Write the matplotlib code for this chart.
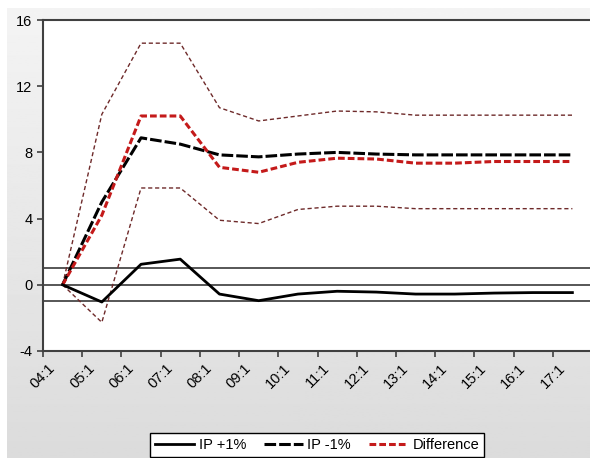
import numpy as np
import matplotlib.pyplot as plt
from matplotlib.transforms import ScaledTranslation

plt.rcParams['font.family'] = ['Liberation Sans', 'DejaVu Sans']
plt.rcParams['axes.unicode_minus'] = False

periods = ['04:1', '05:1', '06:1', '07:1', '08:1', '09:1', '10:1',
           '11:1', '12:1', '13:1', '14:1', '15:1', '16:1', '17:1']
ip_plus = [0.0, -1.04, 1.24, 1.55, -0.56, -0.96, -0.56, -0.39, -0.44,
           -0.56, -0.56, -0.5, -0.47, -0.47]
ip_minus = [0.0, 5.0, 8.88, 8.5, 7.85, 7.73, 7.9, 8.0, 7.9,
            7.85, 7.85, 7.85, 7.85, 7.85]
difference = [0.0, 4.2, 10.2, 10.2, 7.1, 6.8, 7.4, 7.65, 7.6,
              7.35, 7.35, 7.45, 7.45, 7.45]
diff_upper = [0.0, 10.3, 14.6, 14.6, 10.7, 9.9, 10.2, 10.5, 10.45,
              10.25, 10.25, 10.25, 10.25, 10.25]
diff_lower = [0.0, -2.27, 5.85, 5.85, 3.9, 3.7, 4.55, 4.75, 4.75,
              4.6, 4.6, 4.6, 4.6, 4.6]

W, H = 590, 458
fig = plt.figure(figsize=(W / 100, H / 100), dpi=100)
fig.patch.set_facecolor('white')

# gray gradient background like the eviews frame
bg = fig.add_axes([7 / W, 0, 1 - 7 / W, 1 - 8 / H], zorder=-5)
grad = np.linspace(0.955, 0.86, 256).reshape(-1, 1)
bg.imshow(grad, cmap='gray', vmin=0, vmax=1, aspect='auto',
          extent=[0, 1, 0, 1], origin='upper')
bg.axis('off')

ax = fig.add_axes([43 / W, 107 / H, 549 / W, 331 / H])
ax.set_facecolor('white')

x = np.arange(len(periods)) + 0.5

for v in (-1, 0, 1):
    ax.axhline(v, color='#3a3a3a', lw=1.2, zorder=1)

band = dict(color='#6e2a2a', lw=1.0, dashes=(3, 2), zorder=2)
ax.plot(x, diff_upper, **band)
ax.plot(x, diff_lower, **band)
ax.plot(x, ip_plus, color='black', lw=2.0, label='IP +1%', zorder=4)
ax.plot(x, ip_minus, color='black', lw=2.2, dashes=(3.8, 1.0),
        label='IP -1%', zorder=3)
ax.plot(x, difference, color='#c41a1a', lw=2.2, dashes=(2.2, 1.0),
        label='Difference', zorder=3)

ax.set_xlim(0, 14)
ax.set_ylim(-4, 16)
ax.set_yticks([-4, 0, 4, 8, 12, 16])
ax.set_xticks(np.arange(len(periods)))
ax.set_xticklabels(periods, rotation=45, ha='center', fontsize=10.5)
for lab in ax.get_xticklabels():
    lab.set_transform(lab.get_transform() + ScaledTranslation(6 / 72, -4 / 72, fig.dpi_scale_trans))
ax.tick_params(axis='y', labelsize=10.5)
ax.tick_params(direction='out', length=4, width=1.2, color='#404040')

for side in ('left', 'top', 'bottom'):
    ax.spines[side].set_color('#404040')
    ax.spines[side].set_linewidth(1.5)
ax.spines['right'].set_visible(False)

fig.legend(loc='upper center', bbox_to_anchor=(317 / W, 1 - 433 / H),
           borderaxespad=0, ncol=3, fontsize=10.5, frameon=True,
           fancybox=False, edgecolor='black', framealpha=1,
           handlelength=2.7, handletextpad=0.3, columnspacing=1.2,
           borderpad=0.35)

plt.savefig('out.png', dpi=100)
